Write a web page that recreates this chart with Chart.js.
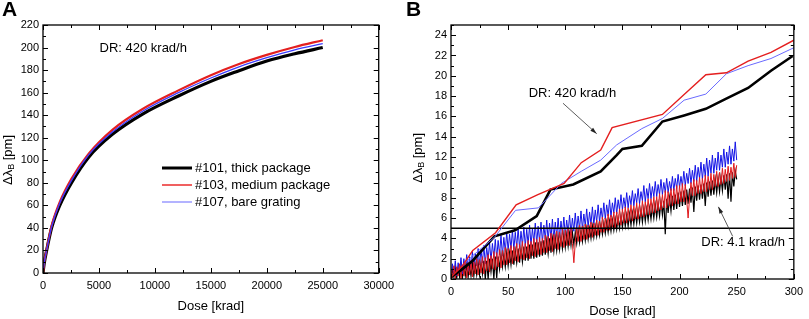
<!DOCTYPE html>
<html>
<head>
<meta charset="utf-8">
<script src="https://cdn.jsdelivr.net/npm/chart.js@4.4.1/dist/chart.umd.min.js"></script>
<style>
  html, body { margin: 0; padding: 0; background: #fff; }
  #wrap { position: relative; width: 809px; height: 319px; }
  canvas { position: absolute; top: 0; }
  #cA { left: 0; }
  #cB { left: 400px; }
</style>
</head>
<body>
<div id="wrap">
  <canvas id="cA" width="400" height="319"></canvas>
  <canvas id="cB" width="409" height="319"></canvas>
</div>
<script>
const FONT = '"Liberation Sans", Arial, sans-serif';

// panel A: 420 krad/h, full run
const doseA = [0, 100, 325, 770, 1500, 2540, 4100, 6200, 8900, 12100, 15000, 17400, 20000, 22500, 25000];
const thick101 = [0, 8, 20, 40, 60, 80, 103, 123, 141, 157, 170, 179, 188, 194.5, 200];
const medium103 = [0, 9, 21, 42, 63, 83.5, 106, 127, 145.5, 162, 175.5, 185, 193.5, 200.5, 206.5];
const bare107 = [0, 8.5, 20.5, 41, 62, 82, 105, 125, 143.5, 160, 173, 182.5, 191, 198, 203.5];
const ticksAX = [0, 5000, 10000, 15000, 20000, 25000, 30000];
const ticksAY = [0, 20, 40, 60, 80, 100, 120, 140, 160, 180, 200, 220];

// panel B: 420 krad/h, first 300 krad
const doseBlack420 = [0, 9, 19, 38, 56, 75, 87, 107, 131, 145, 150, 167, 185, 204, 223, 240, 260, 280, 299];
const black420 = [0.2, 0.9, 1.8, 4.2, 4.8, 6.2, 8.8, 9.3, 10.6, 12.2, 12.8, 13.1, 15.5, 16.1, 16.75, 17.7, 18.8, 20.5, 21.95];
const doseRed420 = [0, 10, 19, 39, 57, 76, 99, 114, 131, 141, 185, 204, 223, 241, 260, 280, 300];
const red420 = [0.2, 1.3, 2.8, 4.55, 7.3, 8.3, 9.4, 11.45, 12.7, 14.9, 16.2, 18.15, 20.1, 20.3, 21.45, 22.3, 23.5];
const doseBlue420 = [0, 19, 38, 56.5, 76.5, 96.5, 114, 131, 145, 167, 185, 204, 223, 241, 260, 280, 300];
const blue420 = [0.2, 2.3, 4.1, 6.76, 7.0, 9.4, 10.6, 11.7, 13.2, 14.8, 15.8, 17.6, 18.2, 20.2, 21.0, 21.7, 22.76];

// panel B: 4.1 krad/h (dense noisy record, read every 1.25 krad)
const doseLow = [
  0, 1.25, 2.5, 3.75, 5, 6.25, 7.5, 8.75, 10, 11.25,
  12.5, 13.75, 15, 16.25, 17.5, 18.75, 20, 21.25, 22.5, 23.75,
  25, 26.25, 27.5, 28.75, 30, 31.25, 32.5, 33.75, 35, 36.25,
  37.5, 38.75, 40, 41.25, 42.5, 43.75, 45, 46.25, 47.5, 48.75,
  50, 51.25, 52.5, 53.75, 55, 56.25, 57.5, 58.75, 60, 61.25,
  62.5, 63.75, 65, 66.25, 67.5, 68.75, 70, 71.25, 72.5, 73.75,
  75, 76.25, 77.5, 78.75, 80, 81.25, 82.5, 83.75, 85, 86.25,
  87.5, 88.75, 90, 91.25, 92.5, 93.75, 95, 96.25, 97.5, 98.75,
  100, 101.25, 102.5, 103.75, 105, 106.25, 107.5, 108.75, 110, 111.25,
  112.5, 113.75, 115, 116.25, 117.5, 118.75, 120, 121.25, 122.5, 123.75,
  125, 126.25, 127.5, 128.75, 130, 131.25, 132.5, 133.75, 135, 136.25,
  137.5, 138.75, 140, 141.25, 142.5, 143.75, 145, 146.25, 147.5, 148.75,
  150, 151.25, 152.5, 153.75, 155, 156.25, 157.5, 158.75, 160, 161.25,
  162.5, 163.75, 165, 166.25, 167.5, 168.75, 170, 171.25, 172.5, 173.75,
  175, 176.25, 177.5, 178.75, 180, 181.25, 182.5, 183.75, 185, 186.25,
  187.5, 188.75, 190, 191.25, 192.5, 193.75, 195, 196.25, 197.5, 198.75,
  200, 201.25, 202.5, 203.75, 205, 206.25, 207.5, 208.75, 210, 211.25,
  212.5, 213.75, 215, 216.25, 217.5, 218.75, 220, 221.25, 222.5, 223.75,
  225, 226.25, 227.5, 228.75, 230, 231.25, 232.5, 233.75, 235, 236.25,
  237.5, 238.75, 240, 241.25, 242.5, 243.75, 245, 246.25, 247.5, 248.75,
  250];
const blueLow = [
  0.2, 1.5, 0.4, 1.8, 0.3, 1.6, 0.6, 2.1, 0.5, 2.0,
  0.9, 2.4, 0.8, 2.2, 1.1, 2.7, 1.0, 2.5, 1.3, 3.0,
  1.4, 2.9, 1.6, 3.3, 1.5, 3.1, 1.9, 3.6, 1.8, 3.5,
  2.1, 3.9, 2.0, 3.8, 2.4, 4.3, 2.3, 4.1, 2.7, 4.6,
  2.8, 4.4, 3.0, 4.8, 2.9, 4.6, 3.1, 5.0, 3.0, 4.7,
  3.3, 5.1, 3.2, 4.9, 3.4, 5.3, 3.3, 5.0, 3.6, 5.5,
  3.5, 5.2, 3.7, 5.6, 3.6, 5.3, 3.9, 5.8, 3.8, 5.5,
  4.0, 5.9, 3.9, 5.6, 4.2, 6.0, 4.1, 5.7, 4.4, 6.1,
  4.3, 5.8, 4.5, 6.3, 4.5, 6.0, 4.7, 6.5, 4.8, 6.2,
  4.9, 6.7, 4.9, 6.4, 5.2, 6.9, 5.1, 6.6, 5.4, 7.1,
  5.3, 6.8, 5.6, 7.3, 5.6, 7.0, 5.9, 7.5, 5.9, 7.3,
  6.2, 7.8, 6.1, 7.5, 6.5, 8.0, 6.4, 7.8, 6.8, 8.3,
  6.8, 8.0, 7.0, 8.5, 7.0, 8.2, 7.3, 8.7, 7.2, 8.4,
  7.5, 8.9, 7.4, 8.6, 7.7, 9.2, 7.6, 8.9, 7.9, 9.4,
  7.9, 9.1, 8.1, 9.6, 8.1, 9.3, 8.3, 9.8, 8.3, 9.5,
  8.5, 9.9, 8.5, 9.6, 8.7, 10.1, 8.7, 9.9, 8.9, 10.3,
  9.0, 10.1, 9.1, 10.6, 9.2, 10.4, 9.4, 10.9, 9.4, 10.7,
  9.6, 11.2, 9.6, 11.0, 9.9, 11.5, 9.8, 11.3, 10.1, 11.9,
  10.1, 11.7, 10.4, 12.2, 10.4, 11.9, 10.7, 12.5, 10.7, 12.2,
  11.0, 12.8, 11.0, 12.5, 11.3, 13.1, 11.3, 12.8, 11.6, 13.5,
  11.7];
const redLow = [
  1.0, 0.1, 1.3, 0.0, 1.2, 0.3, 1.5, 0.0, 1.4, 0.3,
  1.7, 0.1, 1.6, 0.4, 1.8, 0.2, 1.7, 0.5, 2.0, 0.4,
  1.9, 0.6, 2.2, 0.5, 2.1, 0.8, 2.4, 0.7, 2.3, 1.0,
  2.7, 0.9, 2.6, 1.2, 2.9, 1.1, 2.8, 1.4, 3.1, 1.4,
  3.0, 1.6, 3.3, 1.5, 3.2, 1.8, 3.5, 1.7, 3.4, 2.0,
  3.7, 1.9, 3.5, 2.1, 3.8, 2.0, 3.7, 2.3, 4.0, 2.2,
  3.9, 2.4, 4.1, 2.4, 4.0, 2.6, 4.3, 2.6, 4.2, 2.8,
  4.5, 2.7, 4.4, 3.0, 4.7, 2.9, 4.6, 3.2, 4.9, 3.1,
  4.8, 3.3, 5.0, 3.3, 4.9, 3.5, 1.6, 3.6, 5.0, 3.7,
  5.3, 3.7, 5.2, 3.9, 5.4, 3.9, 5.3, 4.1, 5.6, 4.1,
  5.5, 4.3, 5.8, 4.3, 5.7, 4.6, 6.1, 4.6, 6.0, 4.8,
  6.4, 4.8, 6.3, 5.1, 6.6, 5.0, 6.6, 5.3, 6.9, 5.3,
  6.9, 5.5, 7.1, 5.5, 7.0, 5.7, 7.3, 5.7, 7.2, 5.9,
  7.5, 5.9, 7.4, 6.1, 7.7, 6.1, 7.6, 6.3, 7.9, 6.3,
  7.9, 6.5, 8.1, 6.5, 8.1, 6.7, 8.4, 6.8, 8.3, 7.0,
  8.7, 7.0, 8.6, 7.2, 8.9, 7.2, 8.9, 7.4, 9.2, 7.4,
  9.2, 7.6, 9.4, 7.6, 9.3, 7.8, 6.0, 8.0, 9.5, 8.2,
  9.8, 8.2, 9.7, 8.4, 10.0, 8.4, 9.9, 8.6, 10.2, 8.6,
  10.1, 8.8, 10.4, 8.8, 10.3, 9.1, 10.6, 9.1, 10.5, 9.3,
  10.9, 9.4, 10.8, 9.6, 11.1, 9.7, 11.0, 9.9, 11.4, 10.0,
  11.2];
const blackLow = [
  0.1, 0.9, 0.2, 1.1, 0.1, 1.0, 0.2, 1.3, 0.1, 1.2,
  0.3, 1.4, 0.2, 1.3, 0.3, 1.5, 0.3, 1.4, 0.4, 1.6,
  0.4, 1.6, 0.5, 1.8, 0.0, 1.8, 0.0, 2.0, 0.7, 2.0,
  0.0, 2.2, 0.1, 2.2, 1.0, 2.4, 1.2, 2.4, 1.2, 2.6,
  1.3, 2.6, 1.4, 2.8, 1.4, 2.8, 1.6, 3.0, 1.6, 3.0,
  1.7, 3.2, 1.8, 3.2, 1.8, 3.4, 2.0, 3.4, 2.0, 3.6,
  2.1, 3.6, 2.2, 3.7, 2.3, 3.8, 2.4, 3.8, 2.5, 4.0,
  2.6, 4.0, 2.7, 4.1, 2.8, 4.2, 2.9, 4.2, 3.0, 4.4,
  3.1, 4.4, 3.2, 4.5, 3.3, 4.6, 3.4, 4.6, 3.5, 4.8,
  3.6, 4.8, 3.7, 4.9, 3.8, 5.0, 3.9, 5.0, 4.0, 5.2,
  4.1, 5.2, 4.2, 5.3, 4.3, 5.4, 4.4, 5.5, 4.5, 5.6,
  4.6, 5.7, 4.7, 5.8, 4.8, 5.9, 4.9, 6.0, 5.0, 6.2,
  5.1, 6.2, 5.2, 6.3, 5.2, 6.4, 5.3, 6.5, 5.4, 6.6,
  5.5, 6.7, 5.6, 6.8, 5.6, 6.9, 5.7, 6.9, 5.8, 7.0,
  5.9, 7.1, 6.0, 7.3, 6.1, 7.4, 6.2, 7.6, 6.3, 7.7,
  4.4, 7.9, 6.5, 8.0, 6.7, 8.2, 6.8, 8.3, 6.9, 8.5,
  7.1, 8.6, 7.2, 8.7, 7.3, 8.8, 7.4, 8.9, 7.5, 9.0,
  6.6, 9.1, 7.7, 9.2, 7.8, 9.3, 7.9, 9.4, 7.2, 9.5,
  8.1, 9.6, 8.2, 9.7, 8.3, 9.8, 8.5, 9.9, 8.6, 10.0,
  8.7, 10.2, 8.8, 10.3, 7.9, 10.4, 7.6, 10.5, 9.1, 10.6,
  9.8];
const limitX = [0, 300];
const limitY = [5, 5];
const ticksBX = [0, 50, 100, 150, 200, 250, 300];
const ticksBY = [0, 2, 4, 6, 8, 10, 12, 14, 16, 18, 20, 22, 24];

const pts = (xs, ys) => xs.map((x, i) => ({ x, y: ys[i] }));

function line(data, color, width, extra = {}) {
  return { data, borderColor: color, backgroundColor: color, borderWidth: width, pointRadius: 0, tension: 0, fill: false, ...extra };
}

// inward major/minor ticks on all four sides, Origin style
const framePlugin = {
  id: "frame",
  afterDraw(chart, args, o) {
    const { ctx, chartArea: a, scales: { x, y } } = chart;
    ctx.save();
    ctx.strokeStyle = "#000";
    ctx.lineWidth = 1.3;
    ctx.strokeRect(a.left, a.top, a.right - a.left, a.bottom - a.top);
    ctx.lineWidth = 1;
    ctx.beginPath();
    for (let v = x.min; v <= x.max + 1e-9; v += o.xMinor) {
      const px = Math.round(x.getPixelForValue(v)) + 0.5;
      const len = Math.abs(v / o.xMajor - Math.round(v / o.xMajor)) < 1e-6 ? 5 : 3;
      ctx.moveTo(px, a.bottom); ctx.lineTo(px, a.bottom - len);
      ctx.moveTo(px, a.top); ctx.lineTo(px, a.top + len);
    }
    for (let v = y.min; v <= y.max + 1e-9; v += o.yMinor) {
      const py = Math.round(y.getPixelForValue(v)) + 0.5;
      const len = Math.abs(v / o.yMajor - Math.round(v / o.yMajor)) < 1e-6 ? 5 : 3;
      ctx.moveTo(a.left, py); ctx.lineTo(a.left + len, py);
      ctx.moveTo(a.right, py); ctx.lineTo(a.right - len, py);
    }
    ctx.stroke();

    // panel letter
    ctx.fillStyle = "#000";
    ctx.font = "bold 21px " + FONT;
    ctx.textBaseline = "top";
    ctx.textAlign = "left";
    ctx.fillText(o.letter, o.letterX, 0);

    // x title
    ctx.font = "13px " + FONT;
    ctx.textAlign = "center";
    ctx.textBaseline = "middle";
    ctx.fillText("Dose [krad]", (a.left + a.right) / 2, o.xTitleY);

    // y title with subscript
    ctx.translate(o.yTitleX, o.yTitleY);
    ctx.rotate(-Math.PI / 2);
    ctx.textAlign = "left";
    ctx.font = "13px " + FONT;
    const w1 = ctx.measureText("Δλ").width;
    const w3 = ctx.measureText(" [pm]").width;
    ctx.font = "9px " + FONT;
    const w2 = ctx.measureText("B").width;
    const x0 = -(w1 + w2 + w3) / 2;
    ctx.font = "13px " + FONT;
    ctx.fillText("Δλ", x0, 0);
    ctx.font = "9px " + FONT;
    ctx.fillText("B", x0 + w1, 4);
    ctx.font = "13px " + FONT;
    ctx.fillText(" [pm]", x0 + w1 + w2, 0);
    ctx.restore();
  },
};

// text labels, arrows and legend placed in data coordinates
const notesPlugin = {
  id: "notes",
  afterDatasetsDraw(chart, args, o) {
    const { ctx, scales: { x, y } } = chart;
    ctx.save();
    ctx.fillStyle = "#000";
    ctx.font = "13px " + FONT;
    ctx.textBaseline = "middle";
    ctx.textAlign = "left";
    (o.texts || []).forEach((t) => ctx.fillText(t.text, x.getPixelForValue(t.x), y.getPixelForValue(t.y)));
    (o.arrows || []).forEach((ar) => {
      const x1 = x.getPixelForValue(ar.from[0]), y1 = y.getPixelForValue(ar.from[1]);
      const x2 = x.getPixelForValue(ar.to[0]), y2 = y.getPixelForValue(ar.to[1]);
      const ang = Math.atan2(y2 - y1, x2 - x1);
      ctx.strokeStyle = "#333";
      ctx.lineWidth = 0.8;
      ctx.beginPath(); ctx.moveTo(x1, y1); ctx.lineTo(x2, y2); ctx.stroke();
      ctx.fillStyle = "#222";
      ctx.beginPath();
      ctx.moveTo(x2, y2);
      ctx.lineTo(x2 - 7 * Math.cos(ang - 0.3), y2 - 7 * Math.sin(ang - 0.3));
      ctx.lineTo(x2 - 7 * Math.cos(ang + 0.3), y2 - 7 * Math.sin(ang + 0.3));
      ctx.closePath(); ctx.fill();
    });
    if (o.legend) {
      const lg = o.legend;
      lg.items.forEach((it, i) => {
        const ly = lg.y + i * lg.gap;
        ctx.strokeStyle = it.color;
        ctx.lineWidth = it.width;
        ctx.beginPath(); ctx.moveTo(lg.x, ly); ctx.lineTo(lg.x + 30, ly); ctx.stroke();
        ctx.fillStyle = "#000";
        ctx.fillText(it.text, lg.x + 33, ly + 0.5);
      });
    }
    ctx.restore();
  },
};

function axes(xMax, yMax, xTicks, yTicks, yWidth, xHeight) {
  const tickFont = { family: FONT, size: 11 };
  return {
    x: {
      type: "linear", min: 0, max: xMax,
      grid: { display: false, drawTicks: false },
      border: { display: false },
      afterBuildTicks: (s) => { s.ticks = xTicks.map((v) => ({ value: v })); },
      afterFit: (s) => { s.height = xHeight; },
      ticks: { color: "#000", font: tickFont, padding: 6, maxRotation: 0, autoSkip: false, callback: (v) => String(v) },
    },
    y: {
      type: "linear", min: 0, max: yMax,
      grid: { display: false, drawTicks: false },
      border: { display: false },
      afterBuildTicks: (s) => { s.ticks = yTicks.map((v) => ({ value: v })); },
      afterFit: (s) => { s.width = yWidth; },
      ticks: { color: "#000", font: tickFont, padding: 4, autoSkip: false, callback: (v) => String(v) },
    },
  };
}

new Chart(document.getElementById("cA"), {
  type: "line",
  data: {
    datasets: [
      line(pts(doseA, bare107), "#3a3aff", 1.3, { cubicInterpolationMode: "monotone" }),
      line(pts(doseA, medium103), "#e41f1f", 2.2, { cubicInterpolationMode: "monotone" }),
      line(pts(doseA, thick101), "#000", 3.2, { cubicInterpolationMode: "monotone" }),
    ],
  },
  options: {
    responsive: false,
    animation: false,
    layout: { padding: { left: 0, right: 18, top: 25, bottom: 0 } },
    scales: axes(30000, 220, ticksAX, ticksAY, 43, 46),
    plugins: {
      legend: { display: false },
      tooltip: { enabled: false },
      frame: { xMinor: 2500, xMajor: 5000, yMinor: 10, yMajor: 20, letter: "A", letterX: 2, xTitleY: 306, yTitleX: 8, yTitleY: 160 },
      notes: {
        texts: [{ text: "DR: 420 krad/h", x: 5050, y: 199.5 }],
        legend: {
          x: 162, y: 168, gap: 17,
          items: [
            { text: "#101, thick package", color: "#000", width: 3 },
            { text: "#103, medium package", color: "#f06060", width: 2 },
            { text: "#107, bare grating", color: "#8080ff", width: 1.2 },
          ],
        },
      },
    },
  },
  plugins: [framePlugin, notesPlugin],
});

new Chart(document.getElementById("cB"), {
  type: "line",
  data: {
    datasets: [
      line(pts(doseRed420, red420), "#e41f1f", 1.4),
      line(pts(doseBlue420, blue420), "#6a6aff", 1),
      line(pts(doseBlack420, black420), "#000", 2.6),
      line(pts(limitX, limitY), "#000", 1.5),
      line(pts(doseLow, redLow), "#e0191d", 1),
      line(pts(doseLow, blueLow), "#1414e6", 1),
      line(pts(doseLow, blackLow), "#000", 1.2),
    ],
  },
  options: {
    responsive: false,
    animation: false,
    layout: { padding: { left: 0, right: 9, top: 25, bottom: 0 } },
    scales: axes(300, 25, ticksBX, ticksBY, 51, 40),
    plugins: {
      legend: { display: false },
      tooltip: { enabled: false },
      frame: { xMinor: 25, xMajor: 50, yMinor: 1, yMajor: 2, letter: "B", letterX: 6, xTitleY: 311, yTitleX: 18, yTitleY: 158 },
      notes: {
        texts: [
          { text: "DR: 420 krad/h", x: 68, y: 18.3 },
          { text: "DR: 4.1 krad/h", x: 219, y: 3.6 },
        ],
        arrows: [
          { from: [98, 17.3], to: [127.5, 14.3] },
          { from: [246.5, 4.2], to: [234, 7.1] },
        ],
      },
    },
  },
  plugins: [framePlugin, notesPlugin],
});
</script>
</body>
</html>
